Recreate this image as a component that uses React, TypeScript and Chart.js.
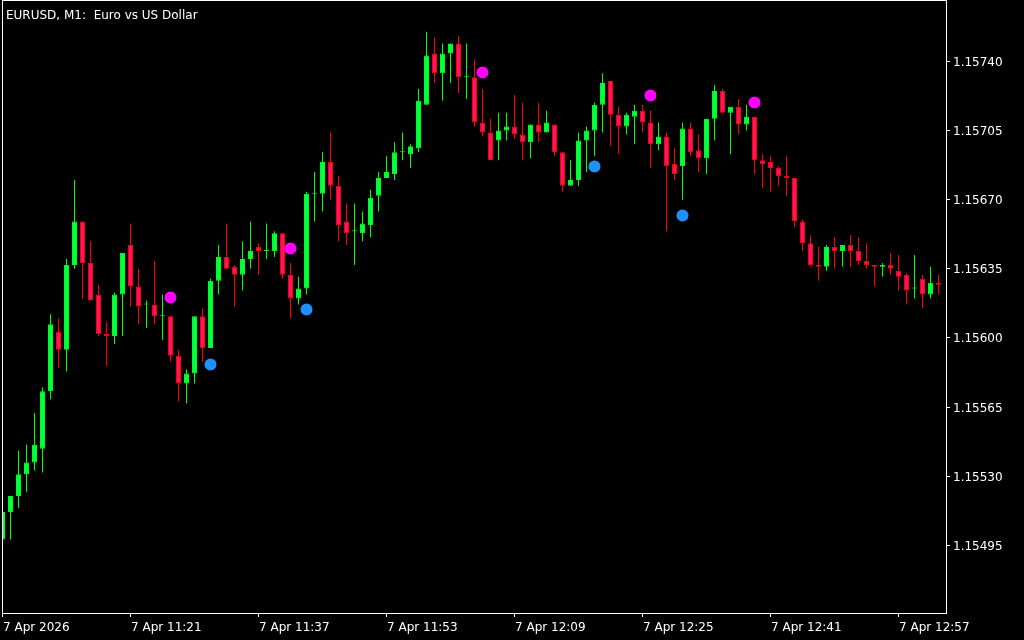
import { useEffect, useRef } from "react";
import { Chart, registerables } from "chart.js";

Chart.register(...registerables);

// ---- data (EURUSD M1, 7 Apr 2026, 11:05 .. 13:02) ----
const chartTitle = "EURUSD, M1:  Euro vs US Dollar";

const candleOpen = [
  1.15498, 1.15512, 1.15520, 1.15531, 1.15537, 1.15544, 1.15573, 1.15603, 1.15594, 1.15637,
  1.15659, 1.15638, 1.15622, 1.15602, 1.15601, 1.15622, 1.15647, 1.15626, 1.15617, 1.15617,
  1.15611, 1.15611, 1.15591, 1.15577, 1.15582, 1.15611, 1.15595, 1.15629, 1.15641, 1.15636,
  1.15632, 1.15640, 1.15646, 1.15644, 1.15644, 1.15653, 1.15632, 1.15620, 1.15625, 1.15673,
  1.15673, 1.15689, 1.15677, 1.15659, 1.15654, 1.15653, 1.15657, 1.15672, 1.15681, 1.15683,
  1.15694, 1.15693, 1.15696, 1.15718, 1.15744, 1.15734, 1.15744, 1.15749, 1.15732, 1.15732,
  1.15709, 1.15704, 1.15700, 1.15705, 1.15707, 1.15703, 1.15699, 1.15708, 1.15704, 1.15708,
  1.15694, 1.15677, 1.15680, 1.15700, 1.15705, 1.15718, 1.15730, 1.15713, 1.15707, 1.15712,
  1.15715, 1.15709, 1.15698, 1.15702, 1.15688, 1.15687, 1.15706, 1.15695, 1.15691, 1.15711,
  1.15725, 1.15714, 1.15717, 1.15708, 1.15712, 1.15690, 1.15689, 1.15686, 1.15682, 1.15681,
  1.15659, 1.15648, 1.15637, 1.15636, 1.15646, 1.15644, 1.15647, 1.15644, 1.15639, 1.15637,
  1.15636, 1.15637, 1.15634, 1.15632, 1.15625, 1.15630, 1.15622, 1.15628,
];
const candleHigh = [
  1.15513, 1.15520, 1.15543, 1.15546, 1.15562, 1.15575, 1.15612, 1.15610, 1.15640, 1.15680,
  1.15659, 1.15649, 1.15627, 1.15608, 1.15623, 1.15643, 1.15658, 1.15635, 1.15619, 1.15639,
  1.15622, 1.15611, 1.15594, 1.15584, 1.15611, 1.15615, 1.15630, 1.15647, 1.15658, 1.15637,
  1.15649, 1.15659, 1.15648, 1.15658, 1.15654, 1.15653, 1.15638, 1.15631, 1.15674, 1.15684,
  1.15694, 1.15704, 1.15682, 1.15668, 1.15668, 1.15664, 1.15675, 1.15684, 1.15692, 1.15699,
  1.15704, 1.15698, 1.15726, 1.15755, 1.15752, 1.15749, 1.15749, 1.15753, 1.15749, 1.15741,
  1.15726, 1.15711, 1.15714, 1.15714, 1.15723, 1.15719, 1.15708, 1.15719, 1.15715, 1.15708,
  1.15694, 1.15690, 1.15704, 1.15707, 1.15719, 1.15734, 1.15730, 1.15717, 1.15714, 1.15718,
  1.15718, 1.15715, 1.15709, 1.15704, 1.15696, 1.15709, 1.15709, 1.15703, 1.15711, 1.15728,
  1.15726, 1.15717, 1.15721, 1.15718, 1.15712, 1.15693, 1.15692, 1.15687, 1.15692, 1.15681,
  1.15660, 1.15652, 1.15646, 1.15647, 1.15651, 1.15647, 1.15652, 1.15651, 1.15648, 1.15637,
  1.15638, 1.15643, 1.15642, 1.15633, 1.15642, 1.15632, 1.15636, 1.15632,
];
const candleLow = [
  1.15497, 1.15498, 1.15514, 1.15522, 1.15533, 1.15532, 1.15569, 1.15585, 1.15583, 1.15635,
  1.15620, 1.15619, 1.15601, 1.15586, 1.15597, 1.15601, 1.15616, 1.15607, 1.15605, 1.15607,
  1.15599, 1.15588, 1.15568, 1.15567, 1.15577, 1.15588, 1.15595, 1.15622, 1.15635, 1.15616,
  1.15624, 1.15635, 1.15632, 1.15640, 1.15641, 1.15630, 1.15610, 1.15617, 1.15622, 1.15659,
  1.15664, 1.15670, 1.15649, 1.15647, 1.15637, 1.15649, 1.15651, 1.15664, 1.15681, 1.15680,
  1.15690, 1.15686, 1.15694, 1.15718, 1.15729, 1.15720, 1.15729, 1.15724, 1.15721, 1.15707,
  1.15702, 1.15690, 1.15690, 1.15700, 1.15701, 1.15690, 1.15691, 1.15699, 1.15704, 1.15692,
  1.15674, 1.15677, 1.15677, 1.15684, 1.15692, 1.15704, 1.15697, 1.15693, 1.15703, 1.15698,
  1.15704, 1.15686, 1.15695, 1.15654, 1.15680, 1.15670, 1.15692, 1.15684, 1.15683, 1.15700,
  1.15714, 1.15693, 1.15703, 1.15705, 1.15683, 1.15676, 1.15674, 1.15677, 1.15672, 1.15656,
  1.15644, 1.15636, 1.15629, 1.15634, 1.15635, 1.15636, 1.15636, 1.15637, 1.15635, 1.15626,
  1.15631, 1.15632, 1.15624, 1.15617, 1.15620, 1.15615, 1.15620, 1.15622,
];
const candleClose = [
  1.15512, 1.15520, 1.15531, 1.15537, 1.15546, 1.15573, 1.15607, 1.15594, 1.15637, 1.15659,
  1.15638, 1.15619, 1.15602, 1.15601, 1.15622, 1.15643, 1.15626, 1.15616, 1.15617, 1.15611,
  1.15611, 1.15591, 1.15577, 1.15582, 1.15611, 1.15595, 1.15629, 1.15641, 1.15635, 1.15632,
  1.15640, 1.15644, 1.15644, 1.15644, 1.15653, 1.15632, 1.15620, 1.15625, 1.15673, 1.15673,
  1.15689, 1.15677, 1.15657, 1.15653, 1.15654, 1.15658, 1.15671, 1.15681, 1.15684, 1.15694,
  1.15694, 1.15697, 1.15720, 1.15743, 1.15734, 1.15744, 1.15749, 1.15732, 1.15732, 1.15709,
  1.15704, 1.15690, 1.15705, 1.15707, 1.15703, 1.15699, 1.15708, 1.15704, 1.15709, 1.15694,
  1.15677, 1.15680, 1.15700, 1.15705, 1.15718, 1.15729, 1.15713, 1.15707, 1.15713, 1.15715,
  1.15709, 1.15698, 1.15702, 1.15687, 1.15683, 1.15706, 1.15694, 1.15691, 1.15711, 1.15725,
  1.15714, 1.15717, 1.15708, 1.15712, 1.15690, 1.15688, 1.15686, 1.15682, 1.15681, 1.15659,
  1.15648, 1.15637, 1.15636, 1.15646, 1.15644, 1.15647, 1.15644, 1.15639, 1.15637, 1.15636,
  1.15637, 1.15635, 1.15631, 1.15624, 1.15625, 1.15622, 1.15628, 1.15627,
];

// signal markers (candle index, price)
const buySignalIndex = [26, 38, 74, 85];
const buySignalValue = [1.155866, 1.156144, 1.156868, 1.15662];
const sellSignalIndex = [21, 36, 60, 81, 94];
const sellSignalValue = [1.156205, 1.156453, 1.157343, 1.157227, 1.157192];

// axis ticks
const priceTicks = [1.15495, 1.1553, 1.15565, 1.156, 1.15635, 1.1567, 1.15705, 1.1574];
const timeTickIndex = [0, 16, 32, 48, 64, 80, 96, 112];
const timeTickLabels = [
  "7 Apr 2026",
  "7 Apr 11:21",
  "7 Apr 11:37",
  "7 Apr 11:53",
  "7 Apr 12:09",
  "7 Apr 12:25",
  "7 Apr 12:41",
  "7 Apr 12:57",
];

const BULL_LINE = "#00FF00";
const BULL_FILL = "#00FF50";
const BEAR_LINE = "#FF0000";
const BEAR_FILL = "#FF1463";
const FONT = '12px "DejaVu Sans"';

const mtPlugin = {
  id: "mtDecor",
  beforeDraw(chart: any) {
    const ctx = chart.ctx;
    ctx.save();
    ctx.fillStyle = "#000000";
    ctx.fillRect(0, 0, chart.width, chart.height);
    ctx.restore();
  },
  afterDraw(chart: any) {
    const ctx = chart.ctx;
    const a = chart.chartArea;
    const xs = chart.scales.x;
    const ys = chart.scales.y;
    ctx.save();
    ctx.strokeStyle = "#FFFFFF";
    ctx.fillStyle = "#FFFFFF";
    ctx.lineWidth = 1;
    ctx.strokeRect(a.left + 0.5, a.top + 0.5, a.right - a.left, a.bottom - a.top);
    ctx.font = FONT;
    // price axis
    ctx.textAlign = "left";
    ctx.textBaseline = "middle";
    priceTicks.forEach((v) => {
      const y = Math.round(ys.getPixelForValue(v) - 0.5) + 0.5;
      ctx.beginPath();
      ctx.moveTo(a.right, y);
      ctx.lineTo(a.right + 4, y);
      ctx.stroke();
      ctx.fillText(v.toFixed(5), a.right + 7, y + 1);
    });
    // time axis
    ctx.textBaseline = "alphabetic";
    timeTickIndex.forEach((idx, k) => {
      const x = Math.floor(xs.getPixelForValue(idx)) + 0.5;
      ctx.beginPath();
      ctx.moveTo(x, a.bottom);
      ctx.lineTo(x, a.bottom + 4);
      ctx.stroke();
      ctx.fillText(timeTickLabels[k], x + 0.5, a.bottom + 18);
    });
    // title
    ctx.fillText(chartTitle, 6, 19);
    ctx.restore();
  },
};

export default function App() {
  const ref = useRef<HTMLCanvasElement | null>(null);
  useEffect(() => {
    if (!ref.current) return;
    const n = candleOpen.length;
    const idx = candleOpen.map((_, i) => i);
    const isBull = idx.map((i) => candleClose[i] >= candleOpen[i]);
    const chart = new Chart(ref.current, {
      type: "bar",
      data: {
        datasets: [
          {
            type: "scatter",
            label: "sell",
            data: sellSignalIndex.map((i, k) => ({ x: i, y: sellSignalValue[k] })),
            backgroundColor: "#FF00FF",
            borderWidth: 0,
            pointRadius: 6,
            order: 1,
          } as any,
          {
            type: "scatter",
            label: "buy",
            data: buySignalIndex.map((i, k) => ({ x: i, y: buySignalValue[k] })),
            backgroundColor: "#1E90FF",
            borderWidth: 0,
            pointRadius: 6,
            order: 1,
          } as any,
          {
            type: "bar",
            label: "body",
            data: idx.map((i) => ({ x: i, y: [candleOpen[i], candleClose[i]] })),
            backgroundColor: isBull.map((b) => (b ? BULL_FILL : BEAR_FILL)),
            borderColor: isBull.map((b) => (b ? BULL_LINE : BEAR_LINE)),
            borderWidth: 1,
            borderSkipped: false,
            grouped: false,
            barThickness: 5,
            maxBarThickness: 5,
            minBarLength: 1,
            inflateAmount: 0,
            order: 2,
          } as any,
          {
            type: "bar",
            label: "wick",
            data: idx.map((i) => ({ x: i, y: [candleLow[i], candleHigh[i]] })),
            backgroundColor: isBull.map((b) => (b ? BULL_LINE : BEAR_LINE)),
            borderWidth: 0,
            grouped: false,
            barThickness: 1,
            maxBarThickness: 1,
            inflateAmount: 0,
            order: 3,
          } as any,
        ],
      },
      options: {
        responsive: false,
        animation: false,
        events: [],
        layout: { autoPadding: false, padding: { left: 2, top: 0, right: 78, bottom: 27 } },
        plugins: { legend: { display: false }, tooltip: { enabled: false } },
        scales: {
          x: {
            type: "linear",
            display: false,
            offset: false,
            min: -0.0625,
            max: -0.0625 + n,
          },
          y: {
            type: "linear",
            display: false,
            beginAtZero: false,
            min: 1.15460843,
            max: 1.15771036,
          },
        },
      } as any,
      plugins: [mtPlugin],
    });
    return () => chart.destroy();
  }, []);
  return (
    <div style={{ position: "fixed", left: 0, top: 0, width: 1024, height: 640, background: "#000" }}>
      <canvas ref={ref} width={1024} height={640} style={{ display: "block" }} />
    </div>
  );
}
